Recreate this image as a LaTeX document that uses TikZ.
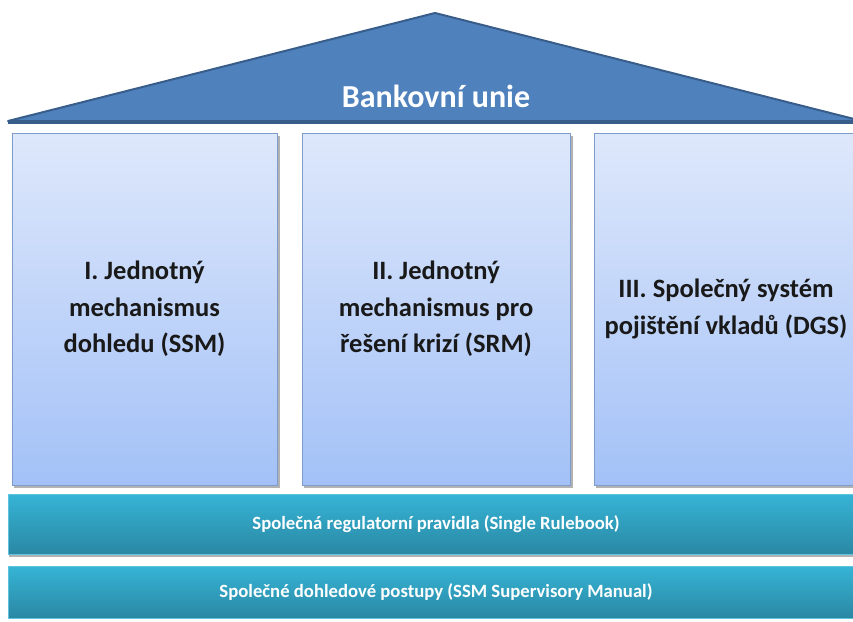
\documentclass[tikz,border=0pt]{standalone}
\usepackage{fontspec}
\setmainfont{Carlito}
\usepackage{tikz}
\usetikzlibrary{positioning}
\definecolor{roofblue}{HTML}{4F81BD}
\definecolor{roofedge}{HTML}{385D8A}
\definecolor{pilltop}{HTML}{DEE8FB}
\definecolor{pillbot}{HTML}{A3C1F7}
\definecolor{pilledge}{HTML}{7D9BCB}
\definecolor{beamtop}{HTML}{36B4D6}
\definecolor{beambot}{HTML}{2A88A3}
\definecolor{beamedge}{HTML}{5FC3DE}
\tikzset{
pillar/.style={rectangle, draw=pilledge, line width=1pt, top color=pilltop, bottom color=pillbot,
  align=center, font=\bfseries\fontsize{26.5}{36.5}\selectfont, text=black!90, inner sep=0pt},
beam/.style={rectangle, draw=beamedge, line width=0.6pt, top color=beamtop, bottom color=beambot,
  minimum width=856pt, font=\bfseries\fontsize{18.7}{22}\selectfont, text=white, inner sep=0pt},
shade/.style={fill=black!30, draw=none}
}

\begin{document}
\begin{tikzpicture}[x=1pt,y=-1pt]
\useasboundingbox (0,0) rectangle (853,621);
\clip (0,0) rectangle (853,621);

% roof
\draw[fill=roofblue, draw=roofedge, line width=2pt, line join=round] (8,121) -- (435,13) -- (862,121) -- cycle;
\draw[roofedge, line width=3pt] (8,122) -- (862,122);
\node[font=\bfseries\fontsize{32}{36}\selectfont, text=white, inner sep=0pt] (roof) at (436,96) {Bankovní unie};

% pillars
\fill[shade] (14,136) rectangle (280,488);
\fill[shade] (304,136) rectangle (573,488);
\fill[shade] (596,136) rectangle (862,488);
\node[pillar, minimum width=265pt, minimum height=352pt] (ssm) at (144.5,309) {I. Jednotný\\mechanismus\\dohledu (SSM)};
\node[pillar, minimum width=268pt, minimum height=352pt] (srm) at (436,309) {II. Jednotný\\mechanismus pro\\řešení krizí (SRM)};
\node[pillar, minimum width=264pt, minimum height=352pt] (dgs) at (726,309) {III. Společný systém\\pojištění vkladů (DGS)};

% base
\fill[shade] (9,497) rectangle (866,557);
\node[beam, minimum height=60pt] (rules) at (436,524) {Společná regulatorní pravidla (Single Rulebook)};
\node[beam, minimum height=52pt] (manual) at (436,592) {Společné dohledové postupy (SSM Supervisory Manual)};
\end{tikzpicture}
\end{document}
